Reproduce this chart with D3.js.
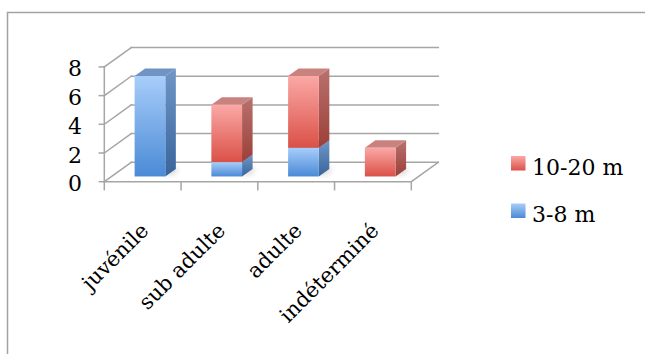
<!DOCTYPE html>
<html>
<head>
<meta charset="utf-8">
<script src="https://cdn.jsdelivr.net/npm/d3@7"></script>
<style>
  html, body { margin: 0; padding: 0; background: #fff; }
  svg { display: block; }
</style>
</head>
<body>
<svg id="chart" width="645" height="354"></svg>
<script>
// Age classes on the category axis
const categories = ["juvénile", "sub adulte", "adulte", "indéterminé"];
// Counts per size class (stacked: 3-8 m at the bottom, 10-20 m above)
const series38 = [7, 1, 2, 0];
const series1020 = [0, 4, 5, 2];
const seriesNames = ["3-8 m", "10-20 m"];
const yTicks = [0, 2, 4, 6, 8];

const FONT = "'DejaVu Serif', 'Liberation Serif', serif";
const svg = d3.select("#chart");

// 3D projection: depth offset of the back plane relative to the front plane
const DX = 27, DY = -19.4;
// bar front and back positions as fractions of the floor depth
const D1 = 0.27, D2 = 0.66;

const x = d3.scaleBand()
  .domain(categories)
  .range([104.3, 411.3])
  .paddingInner(0.6)
  .paddingOuter(0.3);
const step = x.step();
const y = d3.scaleLinear().domain([0, 8]).range([181.7, 66.9]);

const palette = {
  "3-8 m": { f0: "#a8cdfa", f1: "#4a8ad6", s0: "#7096c6", s1: "#38659c", t: "#7093c4" },
  "10-20 m": { f0: "#fba8a6", f1: "#da5147", s0: "#b8726f", s1: "#9c3f38", t: "#ca827f" }
};

const defs = svg.append("defs");
Object.entries(palette).forEach(([name, c], i) => {
  const g1 = defs.append("linearGradient").attr("id", "front" + i)
    .attr("x1", 0).attr("y1", 0).attr("x2", 0).attr("y2", 1);
  g1.append("stop").attr("offset", "0%").attr("stop-color", c.f0);
  g1.append("stop").attr("offset", "100%").attr("stop-color", c.f1);
  const g2 = defs.append("linearGradient").attr("id", "side" + i)
    .attr("x1", 0).attr("y1", 0).attr("x2", 0).attr("y2", 1);
  g2.append("stop").attr("offset", "0%").attr("stop-color", c.s0);
  g2.append("stop").attr("offset", "100%").attr("stop-color", c.s1);
});
defs.append("filter").attr("id", "soft").attr("x", "-50%").attr("y", "-50%")
  .attr("width", "200%").attr("height", "200%")
  .append("feGaussianBlur").attr("stdDeviation", 2.5);

// outer chart border (runs past the right and bottom edges)
svg.append("rect")
  .attr("x", 7.5).attr("y", 12.5).attr("width", 700).attr("height", 400)
  .attr("fill", "none").attr("stroke", "#a3a3a3").attr("stroke-width", 1.5);

const grid = svg.append("g").attr("stroke", "#a6a6a6").attr("stroke-width", 1.5)
  .attr("fill", "none").attr("stroke-linecap", "square");

const x0 = x.range()[0], x1 = x.range()[1];

// back wall gridlines + left side wall diagonals
yTicks.forEach(v => {
  grid.append("line")
    .attr("x1", x0 + DX).attr("y1", y(v) + DY)
    .attr("x2", x1 + DX).attr("y2", y(v) + DY);
  grid.append("line")
    .attr("x1", x0).attr("y1", y(v))
    .attr("x2", x0 + DX).attr("y2", y(v) + DY);
  grid.append("line")
    .attr("x1", x0 - 5).attr("y1", y(v))
    .attr("x2", x0).attr("y2", y(v));
});
// value axis (front)
grid.append("line").attr("x1", x0).attr("y1", y(0)).attr("x2", x0).attr("y2", y(8));
// floor front and right edges
grid.append("line").attr("x1", x0).attr("y1", y(0)).attr("x2", x1).attr("y2", y(0));
grid.append("line").attr("x1", x1).attr("y1", y(0)).attr("x2", x1 + DX).attr("y2", y(0) + DY);
// category tick marks
d3.range(categories.length + 1).forEach(i => {
  const tx = x0 + i * step;
  grid.append("line").attr("x1", tx).attr("y1", y(0)).attr("x2", tx).attr("y2", y(0) + 8);
});

// value labels
svg.append("g").selectAll("text").data(yTicks).join("text")
  .attr("x", 82).attr("y", d => y(d) + 2)
  .attr("text-anchor", "end").attr("dominant-baseline", "central")
  .attr("font-family", FONT).attr("font-size", 22).text(d => d);

// category labels, rotated
svg.append("g").selectAll("text").data(categories).join("text")
  .attr("transform", d => `translate(${x(d) + x.bandwidth() / 2 + 7},${232}) rotate(-45)`)
  .attr("text-anchor", "end")
  .attr("font-family", FONT).attr("font-size", 21).text(d => d);

// stacked segments
const segs = [];
categories.forEach((c, i) => {
  const a = series38[i], b = series1020[i];
  if (a > 0) segs.push({ c, s: 0, lo: 0, hi: a });
  if (b > 0) segs.push({ c, s: 1, lo: a, hi: a + b });
});

const bars = svg.append("g");
// soft floor shadows
categories.forEach((c) => {
  const bx = x(c), bw = x.bandwidth();
  const fx = bx + D1 * DX, fy = y(0) + D1 * DY;
  bars.append("polygon")
    .attr("points", [[fx + bw, fy], [fx + bw + 10, fy - 2], [fx + bw + 14, fy - 8], [fx + bw + 4, fy - 10]].join(" "))
    .attr("fill", "#000").attr("opacity", 0.12).attr("filter", "url(#soft)");
});

segs.forEach(d => {
  const bx = x(d.c), bw = x.bandwidth();
  const fdx = D1 * DX, fdy = D1 * DY, bdx = D2 * DX, bdy = D2 * DY;
  const yl = y(d.lo), yh = y(d.hi);
  const name = seriesNames[d.s];
  const g = bars.append("g");
  // right side face
  g.append("polygon")
    .attr("points", [
      [bx + bw + fdx, yh + fdy], [bx + bw + bdx, yh + bdy],
      [bx + bw + bdx, yl + bdy], [bx + bw + fdx, yl + fdy]
    ].join(" "))
    .attr("fill", `url(#side${d.s})`);
  // top face
  g.append("polygon")
    .attr("points", [
      [bx + fdx, yh + fdy], [bx + bw + fdx, yh + fdy],
      [bx + bw + bdx, yh + bdy], [bx + bdx, yh + bdy]
    ].join(" "))
    .attr("fill", palette[name].t);
  // front face
  g.append("rect")
    .attr("x", bx + fdx).attr("y", yh + fdy)
    .attr("width", bw).attr("height", yl - yh)
    .attr("fill", `url(#front${d.s})`);
});

// legend (10-20 m listed first)
const legend = svg.append("g");
[[1, 156, 175], [0, 203.5, 222]].forEach(([s, sy, ty]) => {
  legend.append("rect").attr("x", 511).attr("y", sy).attr("width", 14.5).attr("height", 14.5)
    .attr("fill", `url(#front${s})`);
  legend.append("text").attr("x", 532).attr("y", ty)
    .attr("font-family", FONT).attr("font-size", 22).text(seriesNames[s]);
});
</script>
</body>
</html>
